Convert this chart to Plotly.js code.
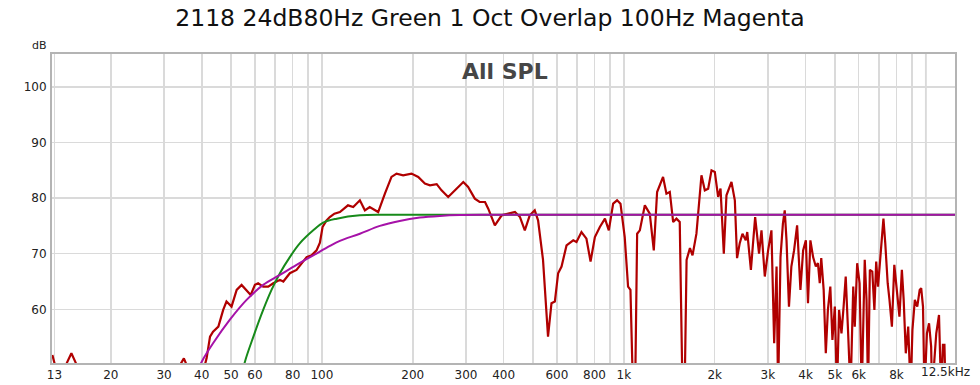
<!DOCTYPE html>
<html>
<head>
<meta charset="utf-8">
<script src="https://cdn.plot.ly/plotly-3.0.1.min.js"></script>
<style>html,body{margin:0;padding:0;background:#fff;}#chart{width:980px;height:385px;}</style>
</head>
<body>
<div id="chart"></div>
<script>
// ---- data ----
const redFreq = [12.8, 13.05, 13.5, 14.0, 14.3, 14.8, 15.3, 15.8, 17, 20, 25, 30, 33, 34.4, 34.9, 35.4, 36.5, 39, 40.5,
  41.5, 42.6, 43.6, 45.4, 47.1, 48.3, 50.2, 52.2, 54.2, 56.3, 58.1, 60.0, 61.5, 63.9, 66.4, 69.0, 72.6, 74.5, 78.3, 82.4,
  85.7, 89.0, 92.4, 96.0, 98.5, 100.5, 103.6, 106.2, 110, 114.7, 122, 127, 133.6, 138.8, 144, 153.6, 161.7, 170, 176.7,
  185.8, 198, 208.5, 219.3, 228, 240, 249, 262, 272, 294, 305, 321, 333, 347, 355.6, 374, 394, 414, 436, 453, 470, 488,
  507, 520, 540, 561, 576, 591, 606, 622, 646, 680, 697, 724, 752, 776, 802, 833, 866, 892, 922, 950, 975, 1007, 1033,
  1052, 1073, 1090, 1107, 1130, 1174, 1219, 1257, 1289, 1349, 1384, 1420, 1457, 1494, 1532, 1565, 1590, 1614, 1656,
  1689, 1740, 1808, 1855, 1903, 1952, 2002, 2053, 2091, 2144, 2188, 2273, 2332, 2372,
  2421, 2472, 2535, 2564, 2636, 2723, 2805, 2858, 2931, 3006, 3083, 3148, 3206, 3243, 3304, 3365, 3412, 3459, 3524,
  3589, 3664, 3750, 3846, 3926, 4009, 4074, 4150, 4236, 4325, 4395, 4457, 4508, 4592, 4667, 4742, 4831, 4909, 5000,
  5082, 5164, 5260, 5346, 5433, 5534, 5636, 5754, 5821, 5929, 6039, 6138, 6281, 6368, 6442, 6531, 6653, 6761, 6855,
  6950, 7031, 7161, 7244, 7345, 7482, 7586, 7727, 7870, 8017, 8185, 8337, 8453, 8590, 8750, 8913, 9036, 9204, 9376,
  9550, 9661, 9795, 9908, 10093, 10257, 10423, 10495, 10839, 11066, 11246, 11402, 11535, 11641];
const redDb = [51.8, 50.3, 47, 48, 50.4, 52.1, 50.4, 48, 46, 44, 45, 47, 49, 50.6, 51.2, 50.4, 48, 47, 49,
  51.2, 55.1, 56.0, 56.9, 59.9, 61.4, 60.5, 63.5, 64.4, 63.5, 62.6, 64.4, 64.7, 64.1, 64.1, 64.7, 65.3, 65.0, 66.5, 67.1,
  68.3, 69.4, 69.7, 70.6, 72.0, 74.8, 76.0, 76.6, 77.2, 77.5, 78.7, 78.4, 79.6, 77.8, 78.4, 77.5, 80.8, 83.8, 84.4,
  84.1, 84.4, 83.8, 82.6, 82.3, 82.5, 81.4, 80.2, 81.1, 82.9, 82.0, 79.9, 79.3, 79.3, 78.1, 75.1, 76.9, 77.2, 77.5, 76.6, 74.2, 76.9,
  77.8, 76.0, 68.9, 55.1, 61.1, 61.4, 66.5, 67.7, 71.5, 72.4, 72.1, 73.9, 72.7, 68.6, 73.0, 74.8, 76.3, 74.2, 79.0, 79.6, 79.0, 73.0, 64.1,
  63.5, 45, 45, 73.6, 74.2, 78.7, 77.2, 70.6, 81.1, 83.8, 80.8, 81.1, 75.7, 76.3, 75.7, 45, 45, 68.9, 71.0,
  69.7, 73.6, 84.1, 81.4, 81.7, 85.0, 84.7, 80.2, 81.7, 70.0, 80.5, 82.9, 79.6, 69.2,
  71.9, 73.6, 72.4, 73.9, 67.1, 76.6, 70.0, 74.2, 65.9, 70.6, 74.2, 53.9, 67.7, 45, 69.4, 75.4, 77.8, 72.4, 60.5,
  67.7, 70.6, 75.1, 63.5, 70.6, 72.4, 61.1, 72.4, 69.4, 67.7, 68.3, 64.7, 69.2, 63.5, 52.1, 59.9, 64.1, 54.5, 60.5,
  45, 59.9, 55.7, 60.5, 65.9, 55.7, 45, 64.1, 56.9, 68.3, 64.7, 45, 68.9, 61.7, 45, 67.1, 66.8, 59.9, 68.6,
  64.1, 67.7, 72.4, 76.3, 71.9, 64.7, 61.7, 56.9, 68.0, 62.9, 58.7, 67.1, 61.7, 52.1, 56.9, 45, 56.3, 61.7, 60.5,
  63.5, 63.8, 60.5, 45, 55.7, 57.5, 53.3, 45, 55.7, 59.0, 45, 53.6, 53.6, 45];

const greenFreq = [54, 55.6, 59.3, 63.9, 68.1, 72.6, 78.3, 84.6, 93.6, 101, 112, 133.6, 160, 200, 300, 1000, 12500];
const greenDb   = [47.5, 50.6, 55.1, 59.9, 63.5, 66.5, 69.4, 71.9, 74.2, 75.6, 76.3, 76.9, 77.0, 77.0, 77.0, 77.0, 77.0];

const magFreq = [38.5, 40, 43.6, 49.5, 56.3, 63.9, 72.6, 82.4, 93.6, 106.3, 114.7, 133.6, 155.6, 181, 211, 246, 286, 350, 1000, 12500];
const magDb   = [48.6, 50.6, 53.9, 58.1, 61.7, 64.4, 66.2, 68.0, 69.7, 71.4, 72.3, 73.6, 75.0, 75.9, 76.5, 76.8, 76.95, 77.0, 77.0, 77.0];

const xTickVals = [13, 20, 30, 40, 50, 60, 70, 80, 90, 100, 200, 300, 400, 500, 600, 700, 800, 900,
  1000, 2000, 3000, 4000, 5000, 6000, 7000, 8000, 9000, 10000];
const xTickText = ['13', '20', '30', '40', '50', '60', '', '80', '', '100', '200', '300', '400', '', '600', '', '800', '',
  '1k', '2k', '3k', '4k', '5k', '6k', '', '8k', '', ''];
const majorGrid = [100, 1000, 10000];
const yTickVals = [60, 70, 80, 90, 100];
const titleText = '2118 24dB80Hz Green 1 Oct Overlap 100Hz Magenta';

const FONT = 'DejaVu Sans, Verdana, sans-serif';

const traces = [
  {x: redFreq, y: redDb, type: 'scatter', mode: 'lines', line: {color: '#b00000', width: 2.2}, hoverinfo: 'skip'},
  {x: greenFreq, y: greenDb, type: 'scatter', mode: 'lines', line: {color: '#178a1a', width: 2, shape: 'spline', smoothing: 1}, hoverinfo: 'skip'},
  {x: magFreq, y: magDb, type: 'scatter', mode: 'lines', line: {color: '#a612a8', width: 2, shape: 'spline', smoothing: 1}, hoverinfo: 'skip'}
];

const layout = {
  width: 980, height: 385,
  margin: {l: 52, r: 25, t: 54, b: 22},
  paper_bgcolor: '#ffffff', plot_bgcolor: '#ffffff',
  showlegend: false,
  font: {family: FONT, size: 12, color: '#222'},
  title: {text: titleText, font: {family: FONT, size: 23.5, color: '#111'}, x: 0.5, xanchor: 'center', xref: 'container', y: 1 - 18/385, yanchor: 'middle', yref: 'container'},
  xaxis: {
    type: 'log', range: [1.106, 4.097], tickmode: 'array', tickvals: xTickVals, ticktext: xTickText,
    showgrid: true, gridcolor: '#dadada', gridwidth: 1.5, zeroline: false,
    showline: true, mirror: true, linecolor: '#b4b4b4', linewidth: 2,
    ticks: '', ticklabelstandoff: 0, tickfont: {family: FONT, size: 12, color: '#222'}
  },
  yaxis: {
    range: [50.36, 105.9], tickmode: 'array', tickvals: yTickVals,
    showgrid: true, gridcolor: '#dadada', gridwidth: 1.5, zeroline: false,
    showline: true, mirror: true, linecolor: '#b4b4b4', linewidth: 2,
    ticks: '', ticklabelstandoff: 1, tickfont: {family: FONT, size: 12, color: '#222'}
  },
  shapes: majorGrid.map(v => ({type: 'line', xref: 'x', yref: 'paper', x0: v, x1: v, y0: 0, y1: 1, layer: 'between', line: {color: '#bdbdbd', width: 1.5}})),
  annotations: [
    {text: 'All SPL', xref: 'paper', yref: 'paper', x: 0.502, y: 0.942, xanchor: 'center', yanchor: 'middle', showarrow: false,
      font: {family: FONT, size: 22, color: '#464646', weight: 'bold'}},
    {text: 'dB', xref: 'paper', yref: 'paper', x: -0.0133, y: 1.026, xanchor: 'center', yanchor: 'middle', showarrow: false,
      font: {family: FONT, size: 11, color: '#222'}},
    {text: '12.5kHz', xref: 'paper', yref: 'paper', x: 1, y: 0, xanchor: 'right', yanchor: 'top', xshift: 17, yshift: 0, showarrow: false,
      font: {family: FONT, size: 12, color: '#222'}}
  ]
};

Plotly.newPlot('chart', traces, layout, {staticPlot: true, displayModeBar: false});
</script>
</body>
</html>
